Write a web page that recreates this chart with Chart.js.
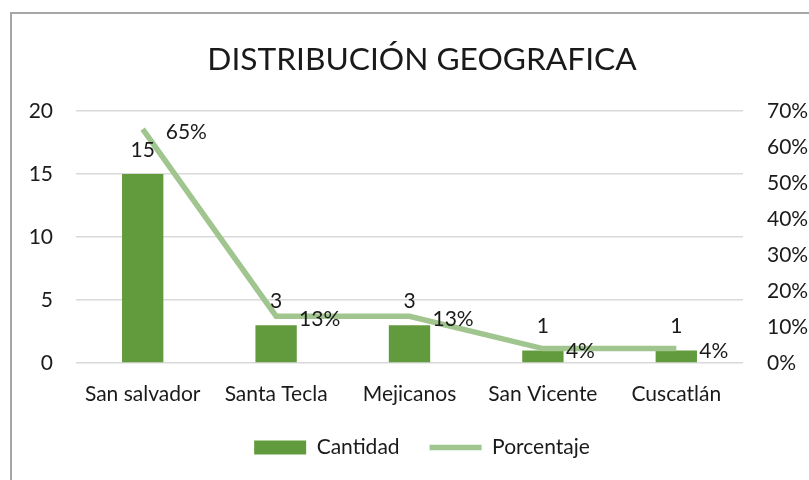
<!DOCTYPE html>
<html>
<head>
<meta charset="utf-8">
<script src="https://cdn.jsdelivr.net/npm/chart.js@4.4.1/dist/chart.umd.min.js"></script>
<style>
  html, body { margin: 0; padding: 0; background: #fff; overflow: hidden; width: 809px; height: 480px; }
  #frame { position: absolute; left: 10px; top: 12px; border-left: 2px solid #a6a6a6; border-top: 2px solid #a6a6a6; }
  canvas { display: block; }
</style>
</head>
<body>
<div id="frame"><canvas id="myChart" width="810" height="466"></canvas></div>
<script>
const categories = ['San salvador', 'Santa Tecla', 'Mejicanos', 'San Vicente', 'Cuscatlán'];
const cantidad = [15, 3, 3, 1, 1];
const porcentaje = [0.65, 0.13, 0.13, 0.04, 0.04];

const barColor = '#629b3d';
const lineColor = '#a1c58f';
const textColor = '#1a1a1a';

Chart.defaults.font.family = 'Lato';
Chart.defaults.font.size = 21;
Chart.defaults.color = textColor;

// labels above the bars and right of the line points
const valueLabels = {
    id: 'valueLabels',
    afterDatasetsDraw(chart) {
        const ctx = chart.ctx;
        ctx.save();
        ctx.font = '21px Lato';
        ctx.fillStyle = textColor;
        ctx.textBaseline = 'middle';
        ctx.textAlign = 'center';
        chart.getDatasetMeta(0).data.forEach((bar, i) => {
            ctx.fillText(cantidad[i], bar.x, bar.y - 24);
        });
        ctx.textAlign = 'left';
        chart.getDatasetMeta(1).data.forEach((pt, i) => {
            ctx.fillText(Math.round(porcentaje[i] * 100) + '%', pt.x + 23, pt.y + 3);
        });
        ctx.restore();
    }
};

var ctx = document.getElementById('myChart').getContext('2d');
const chart = new Chart(ctx, {
    type: 'bar',
    data: {
        labels: categories,
        datasets: [{
            label: 'Cantidad',
            data: cantidad,
            backgroundColor: barColor,
            borderWidth: 0,
            categoryPercentage: 1,
            barPercentage: 0.31,
            yAxisID: 'y',
            order: 1
        },
        {
            type: 'line',
            label: 'Porcentaje',
            data: porcentaje,
            borderColor: lineColor,
            backgroundColor: lineColor,
            borderWidth: 5.5,
            pointRadius: 0,
            tension: 0,
            yAxisID: 'y1',
            order: 0
        }]
    },
    options: {
        responsive: false,
        animation: false,
        layout: { padding: { left: 10, right: 0, top: 0, bottom: 12 } },
        scales: {
            x: {
                grid: { display: false },
                border: { display: false },
                ticks: { padding: 11, maxRotation: 0 },
                afterFit: s => { s.height = 44; }
            },
            y: {
                position: 'left',
                min: 0, max: 20,
                ticks: { stepSize: 5, padding: 23 },
                grid: { color: '#d9d9d9', lineWidth: 1.5, drawTicks: false },
                border: { display: false },
                afterFit: s => { s.width = 54; }
            },
            y1: {
                position: 'right',
                min: 0, max: 0.7,
                ticks: {
                    stepSize: 0.1, padding: 24,
                    callback: v => Math.round(v * 100) + '%'
                },
                grid: { display: false, drawTicks: false },
                border: { display: false },
                afterFit: s => { s.width = 79; }
            }
        },
        plugins: {
            title: {
                display: true,
                text: 'DISTRIBUCIÓN GEOGRAFICA',
                font: { size: 31.7, weight: 'normal' },
                color: textColor,
                padding: { top: 27, bottom: 32 }
            },
            legend: {
                position: 'bottom',
                labels: {
                    usePointStyle: true,
                    boxHeight: 14,
                    pointStyleWidth: 52,
                    padding: 30,
                    generateLabels: function (c) {
                        const items = Chart.defaults.plugins.legend.labels.generateLabels(c);
                        items.sort((a, b) => a.datasetIndex - b.datasetIndex);
                        items.forEach(it => {
                            if (it.datasetIndex === 0) {
                                it.pointStyle = 'rect';
                                it.lineWidth = 0;
                            } else {
                                it.pointStyle = 'line';
                                it.lineWidth = 5.5;
                            }
                        });
                        return items;
                    }
                }
            },
            tooltip: { enabled: false }
        }
    },
    plugins: [valueLabels]
});
</script>
</body>
</html>
